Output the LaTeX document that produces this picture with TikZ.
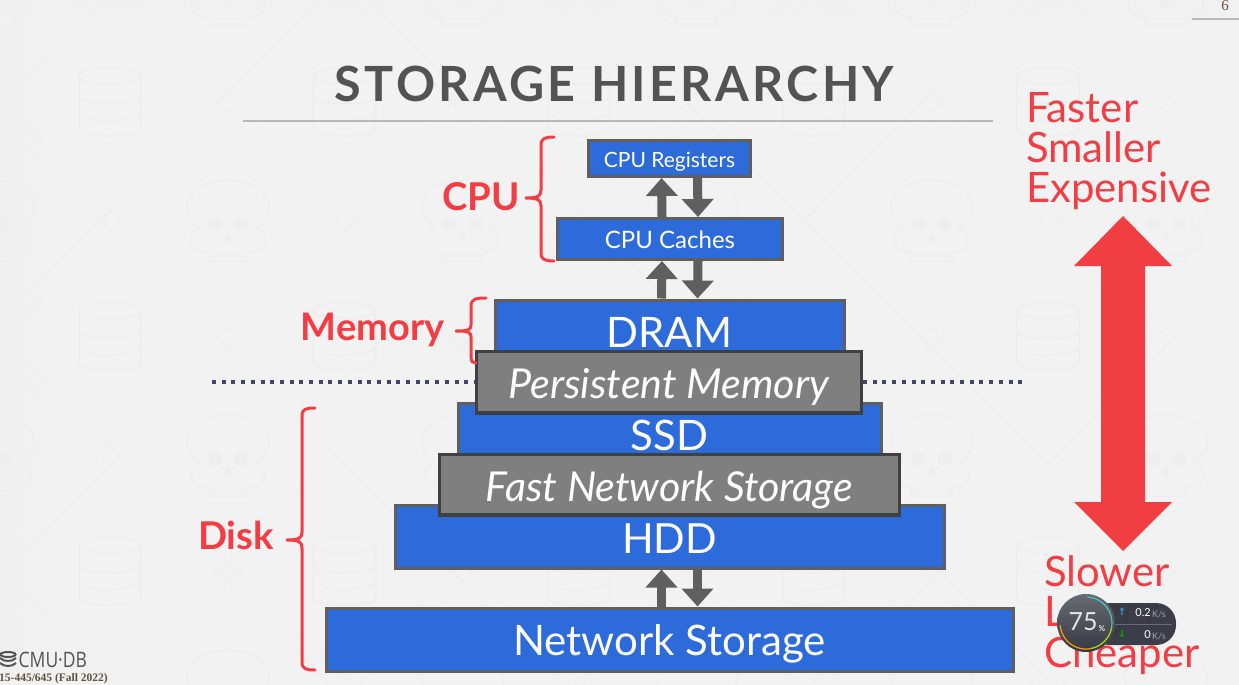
\documentclass[tikz,border=0pt]{standalone}
\usepackage{fontspec}
\setmainfont{Lato}[Extension=.ttf,UprightFont=*-Regular,BoldFont=*-Bold,ItalicFont=*-Italic,BoldItalicFont=*-BoldItalic]
\newfontfamily\titlefont{Lato}[Extension=.ttf,UprightFont=*-Bold,LetterSpace=7]
\newfontfamily\footfont{Liberation Serif}
\newfontfamily\logofont{Open Sans}
\newfontfamily\symfont{DejaVu Sans}
\usetikzlibrary{arrows.meta,calc}
\newcommand{\lowered}[2]{\raisebox{-#1pt}[0pt][0pt]{#2}}
\definecolor{bgc}{HTML}{F2F2F2}
\definecolor{wm}{HTML}{EEEEEE}
\definecolor{wmd}{HTML}{EFEFEF}
\definecolor{blu}{HTML}{2D6BDB}
\definecolor{edgeg}{HTML}{5F5F5F}
\definecolor{darkedge}{HTML}{404040}
\definecolor{midg}{HTML}{7F7F7F}
\definecolor{redc}{HTML}{F23D45}
\definecolor{bigred}{HTML}{F03E42}
\definecolor{dotc}{HTML}{44446A}
\definecolor{wid}{HTML}{363943}
\tikzset{
  x=1pt,y=-1pt,
  tier/.style={draw=edgeg,line width=3pt,fill=blu,text=white,inner sep=0pt,anchor=north west},
  glass/.style={draw=darkedge,line width=3.5pt,fill=midg,text=white,inner sep=0pt,anchor=north west,font=\fontsize{41.2}{41.2}\selectfont\itshape},
  flow/.style={draw=edgeg,line width=9pt,-{Triangle[length=18pt,width=31pt]}},
  brace/.style={draw=redc,line width=3pt,line cap=round,line join=round},
  grouplabel/.style={text=redc,font=\fontsize{38.3}{38.3}\selectfont\bfseries,inner sep=0pt},
  sidetext/.style={text=redc,font=\fontsize{41.9}{41.9}\selectfont,anchor=base west,inner sep=0pt},
  wmline/.style={draw=wm,line width=1.6pt},
  wmdiag/.style={draw=wmd,line width=1pt},
}
\newcommand{\cyl}[2]{\begin{scope}[shift={(#1,#2)}]
 \draw[wmdiag] (127,0) -- (0,127) -- (-127,0) -- (0,-127) -- cycle;
 \draw[wmline] (0,-27) ellipse[x radius=31,y radius=8];
 \draw[wmline] (-31,-27) -- (-31,27) .. controls (-25,35) and (25,35) .. (31,27) -- (31,-27);
 \draw[wmline] (-31,-6) .. controls (-25,3) and (25,3) .. (31,-6);
 \draw[wmline] (-22,16) .. controls (-10,19) and (15,19) .. (31,11);
\end{scope}}
\newcommand{\skl}[2]{\begin{scope}[shift={(#1,#2)}]
 \draw[wmdiag] (127,0) -- (0,127) -- (-127,0) -- (0,-127) -- cycle;
 \draw[wmline] (-20,41) -- (-20,32) .. controls (-30,32) and (-37,28) .. (-37,20) .. controls (-37,13) and (-32,10) .. (-28,7) .. controls (-36,2) and (-41,-6) .. (-41,-12) .. controls (-41,-30) and (-22,-40) .. (0,-40) .. controls (22,-40) and (41,-30) .. (41,-12) .. controls (41,-6) and (36,2) .. (28,7) .. controls (32,10) and (37,13) .. (37,20) .. controls (37,28) and (30,32) .. (20,32) -- (20,41) -- cycle;
 \fill[wm] (-13,4) circle[radius=7]; \fill[wm] (13,4) circle[radius=7];
 \fill[wm] (0,10) -- (4,21) -- (-4,21) -- cycle;
 \draw[wm,line width=1pt] (-20,34) -- (20,34);
\end{scope}}
\begin{document}
\begin{tikzpicture}
\useasboundingbox (0,0) rectangle (1239,685);
\fill[bgc] (0,0) rectangle (1239,685);
\shade[left color=black!6,right color=bgc] (0,0) rectangle (55,685);
\shade[left color=bgc,right color=black!5] (1190,0) rectangle (1239,685);
\shade[top color=black!6,bottom color=bgc,opacity=.7] (0,0) rectangle (1239,20);
\shade[top color=bgc,bottom color=black!5,opacity=.7] (0,655) rectangle (1239,685);
% watermark
\begin{scope}
\clip (0,0) rectangle (1239,685);
\foreach \i in {0,...,4}{\foreach \j in {0,...,2}{
  \pgfmathsetmacro{\px}{110+234.5*\i}\pgfmathsetmacro{\py}{103+234.5*\j}
  \cyl{\px}{\py}
}}
\foreach \i in {-1,...,4}{\foreach \j in {0,...,3}{
  \pgfmathsetmacro{\px}{228+234.5*\i}\pgfmathsetmacro{\py}{-15+235*\j}
  \skl{\px}{\py}
}}
\end{scope}
% title
\node[inner sep=0pt,text=darkedge!90!white] (title) at (614.5,84) {\titlefont\fontsize{48.5}{48.5}\selectfont STORAGE HIERARCHY};
\coordinate (ruleL) at (243,120.5); \coordinate (ruleR) at (993,120.5);
\draw[draw=black!28,line width=2pt] (ruleL) -- (ruleR);
\node[inner sep=0pt,text=darkedge!70!brown] (pagenum) at (1225,6) {\footfont\fontsize{15}{15}\selectfont 6};
\coordinate (pnL) at (1192,19); \coordinate (pnR) at (1239,19);
\draw[draw=black!28,line width=2.5pt] (pnL) -- (pnR);
% dotted separator
\coordinate (dotL) at (212,382); \coordinate (dotR) at (1024,382);
% tiers
\node[tier,minimum width=162pt,minimum height=36pt,font=\fontsize{21}{21}\selectfont] (reg) at (587,139) {\lowered{8.5}{CPU Registers}};
\node[tier,minimum width=225pt,minimum height=41pt,font=\fontsize{24}{24}\selectfont] (cache) at (556,217) {\lowered{9.5}{CPU Caches}};
\node[tier,minimum width=349pt,minimum height=60pt,font=\fontsize{42}{42}\selectfont] (dram) at (493.5,298.5) {\lowered{17}{DRAM}};
\node[tier,minimum width=423pt,minimum height=60pt,font=\fontsize{42}{42}\selectfont] (ssd) at (456.5,401.5) {\lowered{17}{SSD}};
\node[tier,minimum width=549pt,minimum height=63pt,font=\fontsize{41.5}{41.5}\selectfont] (hdd) at (393.5,503.5) {\lowered{16.5}{HDD}};
\node[tier,minimum width=687pt,minimum height=63pt,font=\fontsize{42}{42}\selectfont] (net) at (324.5,606.5) {\lowered{15.5}{Network Storage}};
\node[glass,minimum width=385pt,minimum height=61.5pt] (pm) at (474.5,349.5) {\lowered{16}{Persistent Memory}};
\node[glass,minimum width=460pt,minimum height=60.5pt] (fns) at (437.5,452.5) {\lowered{16.5}{Fast Network Storage}};
\draw[draw=dotc,line width=4pt,dash pattern=on 4pt off 5.7pt] (dotL) -- (pm.west);
\draw[draw=dotc,line width=4pt,dash pattern=on 4pt off 5.7pt] (pm.east) -- (dotR);
% flows
\foreach \a/\b in {cache/reg,dram/cache,net/hdd}{
  \draw[flow] ($(\a.north)+(-8,0)$) -- ($(\b.south)+(-8,0)$);
  \draw[flow] ($(\b.south)+(28,0)$) -- ($(\a.north)+(28,0)$);
}
% braces
\node[grouplabel] (cpul) at (481,197) {CPU};
\draw[brace] (554,137) .. controls (546,137) and (541,138) .. (541,145) -- (541,190) .. controls (541,196) and (538,198) .. (526,198) .. controls (538,198) and (541,200) .. (541,206) -- (541,253) .. controls (541,260) and (546,261) .. (554,261);
\node[grouplabel,font=\fontsize{38}{38}\selectfont\bfseries] (meml) at (372.5,330) {Memory};
\draw[brace] (486,298) .. controls (476,298) and (471,299) .. (471,306) -- (471,325) .. controls (471,330) and (468,331) .. (456,331) .. controls (468,331) and (471,332) .. (471,337) -- (471,357) .. controls (471,362) and (473,363) .. (476,363);
\node[grouplabel] (diskl) at (236,535) {Disk};
\draw[brace] (315,408) .. controls (306,408) and (302,409) .. (302,416) -- (302,532) .. controls (302,538) and (299,540) .. (287,540) .. controls (299,540) and (302,542) .. (302,548) -- (302,662) .. controls (302,669) and (306,670) .. (315,670);
% big arrow
\fill[bigred] (1123,216) -- (1172,266) -- (1145,266) -- (1145,502) -- (1172,502) -- (1123,551) -- (1074,502) -- (1101,502) -- (1101,266) -- (1074,266) -- cycle;
\node[sidetext] (t1) at (1026,122) {Faster};
\node[sidetext] (t2) at (1026,162) {Smaller};
\node[sidetext] (t3) at (1026,202) {Expensive};
\node[sidetext] (b1) at (1044,586) {Slower};
\node[sidetext] (b2) at (1044,626) {Larger};
\node[sidetext] (b3) at (1044,667) {Cheaper};
% footer
\begin{scope}[draw=darkedge!90!white,line width=2pt]
\draw (8,654.5) ellipse[x radius=7.5,y radius=2.5];
\draw (0,658) .. controls (4,662) and (12,662) .. (16,658);
\draw (0,663) .. controls (4,667) and (12,667) .. (16,663);
\end{scope}
\node[inner sep=0pt,anchor=west,text=darkedge!90!white] (logo) at (18.5,660) {\logofont\fontsize{19}{19}\selectfont\scalebox{0.92}[1.12]{CMU·DB}};
\node[inner sep=0pt,anchor=west,text=darkedge!75!brown] (course) at (-1,679) {\footfont\bfseries\fontsize{11.5}{11.5}\selectfont 15-445/645 (Fall 2022)};
% widget
\fill[wid,rounded corners=20pt,opacity=.97] (1090,603) rectangle (1176,645);
\draw[white!25!wid,line width=.6pt] (1115,624) -- (1172,624);
\shade[top color=wid!75!white,bottom color=wid] (1086,623) circle[radius=29];
\draw[cyan!60!green!70!white,line width=1.2pt] (1086,623) ++(-87:26) arc[start angle=-87,end angle=10,radius=26];
\draw[yellow!70!green,line width=1.2pt] (1086,623) ++(10:26) arc[start angle=10,end angle=80,radius=26];
\draw[orange!80!yellow,line width=1.2pt] (1086,623) ++(80:26) arc[start angle=80,end angle=175,radius=26];
\node[inner sep=0pt,text=white!90!black] (pct) at (1083,622) {\fontsize{25}{25}\selectfont 75};
\node[inner sep=0pt,text=white!90!black] (pcts) at (1102,629) {\fontsize{8}{8}\selectfont\bfseries \%};
\node[inner sep=0pt,text=cyan!70!blue!80!white] (up) at (1122,612) {\symfont\bfseries\fontsize{10}{10}\selectfont ↑};
\node[inner sep=0pt,text=green!65!black] (down) at (1122,634) {\symfont\bfseries\fontsize{10}{10}\selectfont ↓};
\node[inner sep=0pt,anchor=east,text=white] (v1) at (1151,613) {\fontsize{11}{11}\selectfont 0.2};
\node[inner sep=0pt,anchor=west,text=white!65!black] (v1u) at (1152,614) {\fontsize{9}{9}\selectfont K/s};
\node[inner sep=0pt,anchor=east,text=white] (v2) at (1151,635) {\fontsize{11}{11}\selectfont 0};
\node[inner sep=0pt,anchor=west,text=white!65!black] (v2u) at (1152,636) {\fontsize{9}{9}\selectfont K/s};
\end{tikzpicture}
\end{document}
